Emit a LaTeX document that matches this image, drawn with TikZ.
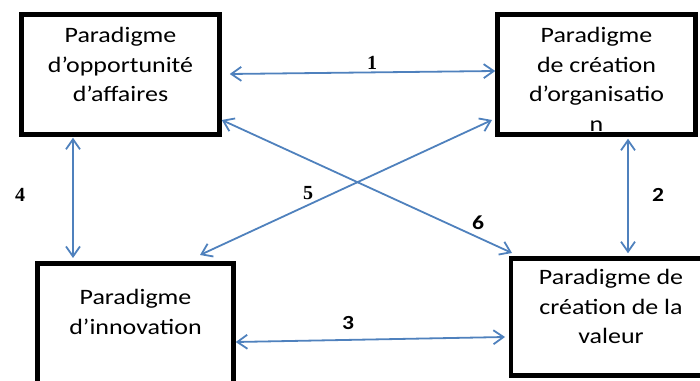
\documentclass[tikz,border=0pt]{standalone}
\usepackage{fontspec}
\newfontfamily\boxfont[FakeStretch=1.18]{Carlito}
\newfontfamily\numfont{Liberation Serif Bold}
\usetikzlibrary{arrows.meta,positioning}
\definecolor{linkblue}{RGB}{79,129,189}

\begin{document}
\begin{tikzpicture}[x=1pt, y=1pt,
    box/.style={draw, line width=4.5pt, inner sep=0pt},
    txt/.style={align=center, inner sep=0pt, outer sep=0pt, font={\boxfont\fontsize{22}{29.5}\selectfont}},
    link/.style={draw=linkblue, line width=1.8pt, {Straight Barb[length=10pt,width=14pt]}-{Straight Barb[length=10pt,width=14pt]}},
    numA/.style={font={\numfont\fontsize{20}{20}\selectfont}},
    numB/.style={font={\boxfont\fontsize{20}{20}\selectfont\bfseries}}
]
\useasboundingbox (0,0) rectangle (700,380);
\clip (0,0) rectangle (700,380);

% the four paradigms
\node[box, minimum width=198pt, minimum height=120pt] (opp) at (120.5,305.5) {};
\node[box, minimum width=198pt, minimum height=120pt] (org) at (596.5,305.5) {};
\node[box, minimum width=196pt, minimum height=146.5pt] (inn) at (135.5,43.25) {};
\node[box, minimum width=200pt, minimum height=117pt] (val) at (611,63) {};

\node[txt, below=15.25pt of opp.north] (oppT) {Paradigme\\d’opportunité\\d’affaires};
\node[txt, below=15.25pt of org.north] (orgT) {Paradigme\\de création\\d’organisatio\\n};
\node[txt, below=28.35pt of inn.north] (innT) {Paradigme\\d’innovation};
\node[txt, below=13.35pt of val.north] (valT) {Paradigme de\\création de la\\valeur};

% links
\draw[link] ([xshift=8pt,yshift=0.5pt]opp.east) -- ([yshift=3.5pt]org.west);
\draw[link] ([xshift=31.5pt,yshift=-2pt]org.south) -- ([xshift=17pt,yshift=3pt]val.north);
\draw[link] ([yshift=-5.25pt]inn.east) -- ([xshift=-3.75pt,yshift=-20pt]val.west);
\draw[link] ([xshift=-47.5pt,yshift=-1pt]opp.south) -- ([xshift=-62.5pt,yshift=3.25pt]inn.north);
\draw[link] ([xshift=-3.25pt,yshift=16.75pt]org.south west) -- ([xshift=64.5pt,yshift=6.25pt]inn.north);
\draw[link] ([yshift=16.75pt]opp.south east) -- ([xshift=3.25pt,yshift=3.25pt]val.north west);

\node[numA] (n1) at (372,317) {1};
\node[numB] (n2) at (658,185) {2};
\node[numB] (n3) at (348,57) {3};
\node[numA] (n4) at (20,185) {4};
\node[numA] (n5) at (308,187) {5};
\node[numB] (n6) at (478,157) {6};

\end{tikzpicture}
\end{document}
